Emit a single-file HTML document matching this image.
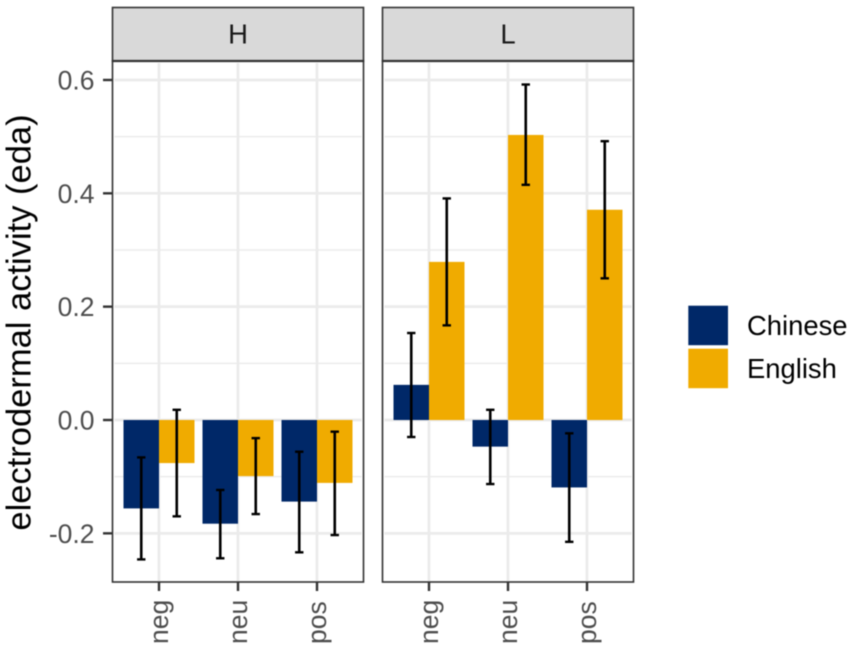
<!DOCTYPE html>
<html lang="en">
<head>
<meta charset="utf-8">
<title>Electrodermal activity by language</title>
<style>
html,body{margin:0;padding:0;background:#fff;width:851px;height:651px;overflow:hidden}
svg{display:block;font-family:"Liberation Sans",Arial,sans-serif;filter:blur(0.45px)}
</style>
</head>
<body>
<svg id="chart" xmlns="http://www.w3.org/2000/svg" width="851" height="651" viewBox="0 0 851 651"></svg>
<script>
const panels = ["H", "L"];
const categories = ["neg", "neu", "pos"];
const groups = ["Chinese", "English"];
const majorTicks = [0.6, 0.4, 0.2, 0.0, -0.2];
const tickLabels = ["0.6", "0.4", "0.2", "0.0", "-0.2"];
const minorTicks = [0.5, 0.3, 0.1, -0.1];

const chineseH = [-0.156, -0.183, -0.144];
const chineseHHigh = [-0.066, -0.1235, -0.056];
const chineseHLow = [-0.246, -0.244, -0.2335];
const englishH = [-0.076, -0.099, -0.111];
const englishHHigh = [0.018, -0.032, -0.0206];
const englishHLow = [-0.17, -0.166, -0.203];
const chineseL = [0.062, -0.047, -0.119];
const chineseLHigh = [0.1535, 0.018, -0.0235];
const chineseLLow = [-0.03, -0.113, -0.215];
const englishL = [0.279, 0.503, 0.371];
const englishLHigh = [0.391, 0.592, 0.492];
const englishLLow = [0.167, 0.415, 0.25];

const seriesByPanel = [
  [{v: chineseH, hi: chineseHHigh, lo: chineseHLow}, {v: englishH, hi: englishHHigh, lo: englishHLow}],
  [{v: chineseL, hi: chineseLHigh, lo: chineseLLow}, {v: englishL, hi: englishLHigh, lo: englishLLow}]
];

const NS = "http://www.w3.org/2000/svg";
const svg = document.getElementById("chart");
const COLORS = ["#002868", "#f0ab00"];
const panelLeft = [112.5, 382.5];
const PW = 251, PT = 61, PB = 582, STRIP_T = 7.5;
const yScale = v => 420 - v * 566.7;
const xScale = (p, i) => panelLeft[p] + 46.5 + i * 79;
const BW = 35.5;

function mk(tag, attrs, text) {
  const e = document.createElementNS(NS, tag);
  for (const k in attrs) e.setAttribute(k, attrs[k]);
  if (text !== undefined) e.textContent = text;
  svg.appendChild(e);
  return e;
}

panels.forEach((name, p) => {
  const L = panelLeft[p], R = L + PW;

  minorTicks.forEach(t => {
    const el = mk("line", {x1: L + 2, x2: R - 2, y1: yScale(t), y2: yScale(t), stroke: "#ececec", "stroke-width": 1.5});
    
    
  });
  majorTicks.forEach(t => {
    const el = mk("line", {x1: L + 2, x2: R - 2, y1: yScale(t), y2: yScale(t), stroke: "#ebebeb", "stroke-width": 2.7});
    
    
  });
  categories.forEach((c, i) => {
    const x = xScale(p, i);
    const el = mk("line", {x1: x, x2: x, y1: PT + 2, y2: PB - 1, stroke: "#ebebeb", "stroke-width": 2.7});
    
    
  });

  seriesByPanel[p].forEach((s, g) => {
    s.v.forEach((val, i) => {
      const x = xScale(p, i) + (g === 0 ? -BW : 0);
      const y0 = yScale(0), y1 = yScale(val);
      const bar = mk("rect", {x: x, y: Math.min(y0, y1), width: BW, height: Math.abs(y1 - y0), fill: COLORS[g]});
      
      
    });
  });

  seriesByPanel[p].forEach((s, g) => {
    s.v.forEach((val, i) => {
      const cx = xScale(p, i) + (g === 0 ? -BW / 2 : BW / 2);
      const yh = yScale(s.hi[i]), yl = yScale(s.lo[i]);
      const stem = mk("line", {x1: cx, x2: cx, y1: yh, y2: yl, stroke: "#000", "stroke-width": 2.6});
      
      
      const capT = mk("line", {x1: cx - 4.2, x2: cx + 4.2, y1: yh, y2: yh, stroke: "#000", "stroke-width": 2.4});
      
      
      const capB = mk("line", {x1: cx - 4.2, x2: cx + 4.2, y1: yl, y2: yl, stroke: "#000", "stroke-width": 2.4});
      
      
    });
  });

  const border = mk("rect", {x: L, y: PT, width: PW, height: PB - PT, fill: "none", stroke: "#333", "stroke-width": 1.6});
  
  

  const strip = mk("rect", {x: L, y: STRIP_T, width: PW, height: PT - STRIP_T, fill: "#d9d9d9", stroke: "#333", "stroke-width": 1.6});
  
  
  const stripEdge = mk("line", {x1: L, x2: R, y1: PT, y2: PT, stroke: "#333", "stroke-width": 2.2});
  
  
  const stripText = mk("text", {x: L + PW / 2, y: 43.5, "text-anchor": "middle", "font-size": 27.5, fill: "#1a1a1a"}, name);
  
  

  categories.forEach((c, i) => {
    const x = xScale(p, i);
    const tick = mk("line", {x1: x, x2: x, y1: PB, y2: PB + 9, stroke: "#333", "stroke-width": 2.4});
    
    
    const lx = x + 9, ly = 644;
    const lab = mk("text", {x: lx, y: ly, "font-size": 26.5, fill: "#4d4d4d", transform: "rotate(-90 " + lx + " " + ly + ")"}, c);
    
    
  });
});

majorTicks.forEach((t, i) => {
  const y = yScale(t);
  const tick = mk("line", {x1: 103, x2: 112, y1: y, y2: y, stroke: "#333", "stroke-width": 2.4});
  
  
  const lab = mk("text", {x: 94.5, y: y + 9.5, "text-anchor": "end", "font-size": 26.5, fill: "#4d4d4d"}, tickLabels[i]);
  
  
});

const yTitle = mk("text", {x: 30.5, y: 322.5, "text-anchor": "middle", "font-size": 34.5, "word-spacing": "1", fill: "#000", transform: "rotate(-90 30.5 322.5)"}, "electrodermal activity (eda)");



groups.forEach((g, i) => {
  const top = 305.7 + i * 43;
  const key = mk("rect", {x: 688.3, y: top, width: 39.7, height: 39.5, fill: COLORS[i]});
  
  
  const lab = mk("text", {x: 747, y: top + 29.5, "font-size": 27.4, fill: "#000"}, g);
  
  
});
</script>
</body>
</html>
